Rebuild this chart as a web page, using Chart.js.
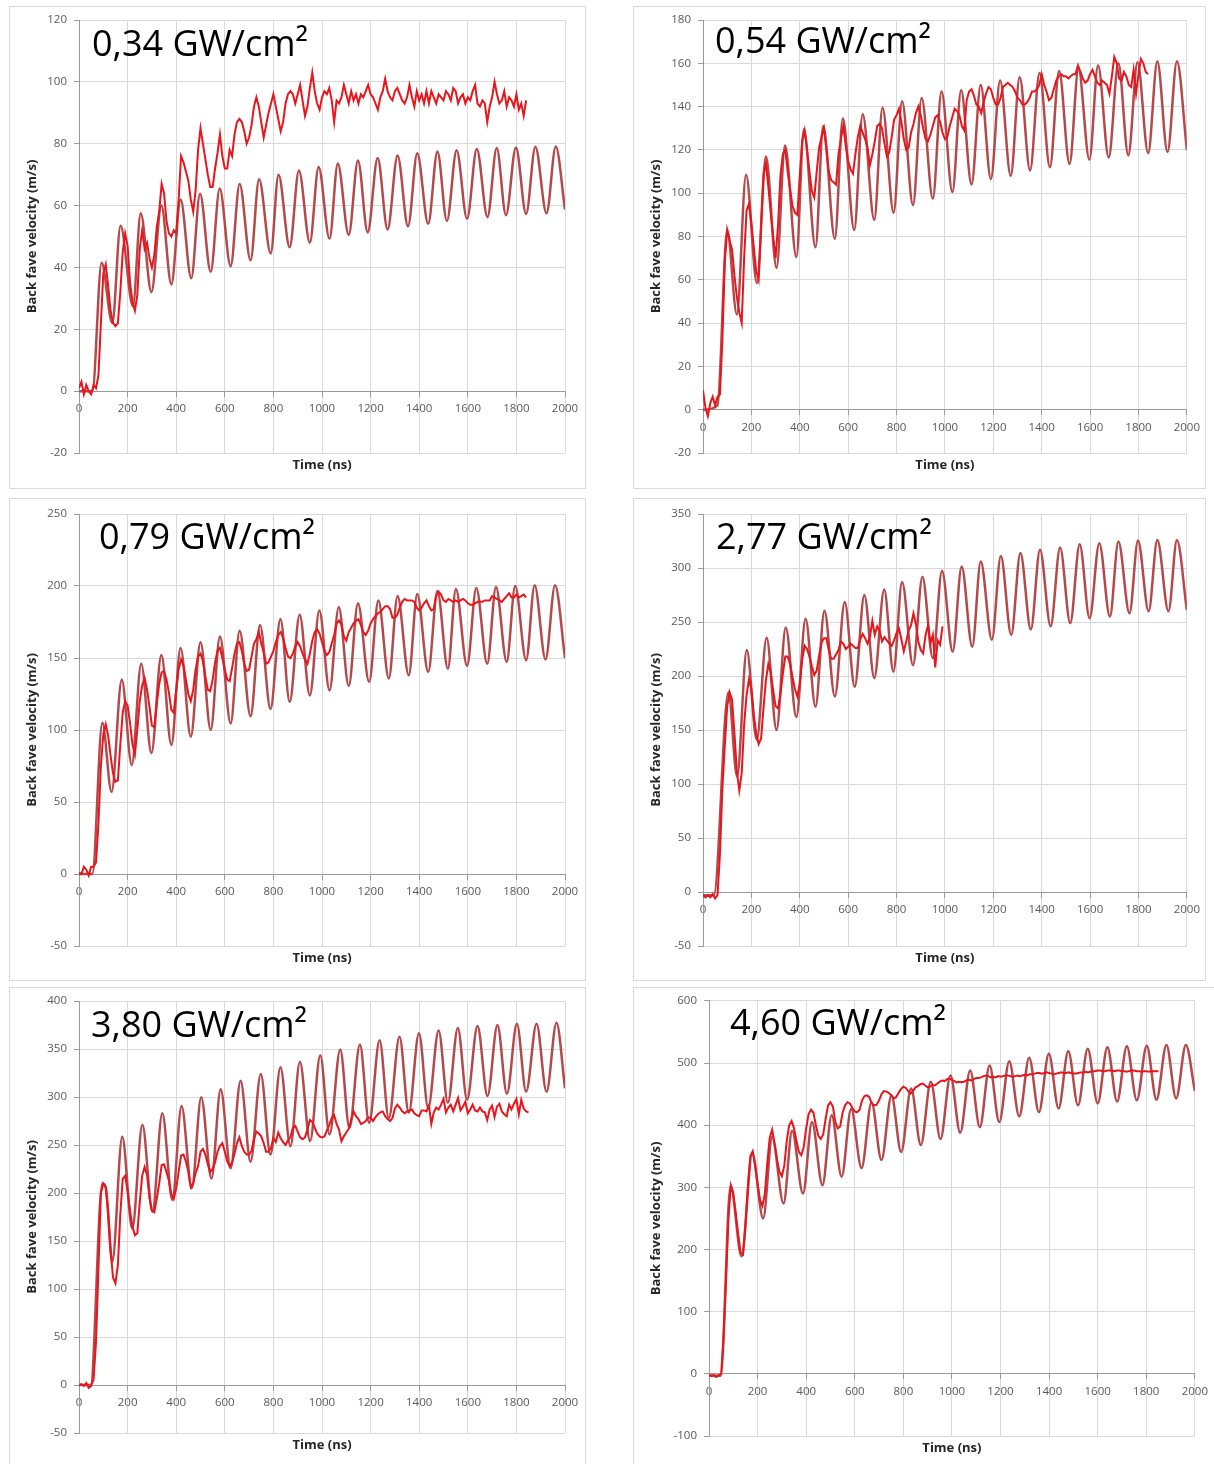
<!DOCTYPE html>
<html>
<head>
<meta charset="utf-8">
<script src="https://cdn.jsdelivr.net/npm/chart.js@4.4.1/dist/chart.umd.min.js"></script>
<style>
    body { margin: 0; background: #fff; width: 1214px; height: 1464px; position: relative; overflow: hidden; }
    canvas { position: absolute; }
    .frame { position: absolute; border: 1px solid #d9d9d9; box-sizing: border-box; pointer-events: none; }
</style>
</head>
<body>
<canvas id="c1" width="577" height="483" style="left:9px;top:6px"></canvas>
<canvas id="c2" width="573" height="483" style="left:633px;top:6px"></canvas>
<canvas id="c3" width="577" height="483" style="left:9px;top:498px"></canvas>
<canvas id="c4" width="573" height="483" style="left:633px;top:498px"></canvas>
<canvas id="c5" width="577" height="477" style="left:9px;top:987px"></canvas>
<canvas id="c6" width="581" height="477" style="left:633px;top:987px"></canvas>
<div class="frame" style="left:9px;top:6px;width:577px;height:483px"></div>
<div class="frame" style="left:633px;top:6px;width:573px;height:483px"></div>
<div class="frame" style="left:9px;top:498px;width:577px;height:483px"></div>
<div class="frame" style="left:633px;top:498px;width:573px;height:483px"></div>
<div class="frame" style="left:9px;top:987px;width:577px;height:480px"></div>
<div class="frame" style="left:633px;top:987px;width:584px;height:480px"></div>
<script>
// measured traces are sampled every 10 ns starting at t = 0
const expStep = 10;

// ---- 0,34 GW/cm2 ----
const simT034 = [0, 55, 93, 137, 171, 222, 254, 298, 339, 380, 418, 462, 498, 542, 579, 624, 661, 706, 741, 789,
    821, 867, 905, 950, 986, 1031, 1065, 1110, 1148, 1188, 1229, 1270, 1311, 1354, 1392, 1437, 1475, 1514, 1554, 1597,
    1637, 1681, 1719, 1757, 1798, 1840, 1878, 1924, 1962, 2000];
const simV034 = [0, 0, 41.5, 22, 53.5, 27.5, 57.5, 32, 60, 34.5, 62, 36.5, 63.8, 38.6, 65.5, 40.4, 67, 42.3, 68.5, 44.5,
    70, 46.5, 71.3, 48, 72.5, 49.3, 73.6, 50.5, 74.6, 51.3, 75.4, 52.3, 76.2, 53.3, 76.9, 54.1, 77.5, 55, 77.9, 55.7,
    78.3, 56.3, 78.6, 56.9, 78.8, 57.3, 79, 57.5, 79.1, 58.7];
const expV034 = [1, 3, -1, 2, 0, -1, 2, 1, 5, 22,
    38, 41, 34, 26, 22, 21, 22, 32, 45, 51,
    47, 35, 29, 26, 31, 46, 52, 46, 48, 43,
    40, 44, 53, 58, 67, 64, 55, 51, 50, 52,
    51, 62, 76, 74, 71, 68, 62, 58, 65, 78,
    85, 80, 75, 70, 66, 66, 72, 77, 83, 76,
    72, 72, 78, 76, 83, 87, 88, 87, 84, 80,
    82, 86, 92, 95, 92, 87, 82, 86, 90, 93,
    96, 92, 88, 84, 87, 93, 96, 97, 96, 93,
    96, 99, 94, 89, 92, 98, 103, 97, 93, 91,
    95, 97, 96, 98, 94, 87, 94, 93, 95, 99,
    96, 93, 97, 94, 96, 93, 96, 95, 97, 99,
    96, 95, 93, 91, 95, 97, 101, 97, 95, 94,
    97, 98, 96, 94, 93, 95, 99, 95, 92, 97,
    94, 96, 93, 97, 93, 97, 95, 93, 96, 95,
    94, 97, 96, 94, 98, 97, 93, 95, 96, 93,
    95, 94, 97, 99, 93, 92, 94, 93, 87, 92,
    95, 100, 96, 93, 94, 97, 92, 95, 94, 92,
    96, 91, 93, 89, 94];

// ---- 0,54 GW/cm2 ----
const simT054 = [0, 60, 100, 140, 178, 223, 260, 304, 339, 386, 417, 465, 497, 545, 578, 625, 660, 708, 742, 788,
    823, 868, 904, 950, 986, 1031, 1067, 1110, 1148, 1190, 1228, 1272, 1309, 1352, 1391, 1434, 1472, 1515, 1552, 1597,
    1633, 1677, 1717, 1758, 1796, 1840, 1878, 1920, 1959, 2000];
const simV054 = [0, 2, 83, 44, 108.5, 58.5, 117, 65.5, 122, 70.5, 129.5, 75, 131, 79, 134.5, 83, 136.5, 87.7, 139.5, 91,
    142.5, 94.5, 144, 97.5, 147, 100.5, 147.5, 104, 150, 106.5, 152, 108, 153.5, 110.5, 155.5, 112, 156.5, 113.5, 157.5, 115.5,
    159, 116.5, 160, 117.5, 160.5, 118.5, 161, 119, 161, 120];
const expV054 = [9, 1, -3, 3, 6, 2, 6, 7, 32, 68,
    83, 78, 74, 62, 52, 45, 40, 70, 92, 95,
    86, 75, 64, 60, 85, 108, 114, 103, 91, 80,
    70, 85, 108, 118, 120, 110, 102, 94, 91, 90,
    108, 124, 129, 120, 110, 101, 98, 110, 121, 126,
    130, 120, 110, 106, 105, 104, 118, 125, 131, 122,
    115, 111, 109, 118, 126, 131, 128, 125, 121, 113,
    118, 124, 131, 132, 130, 123, 117, 119, 126, 134,
    136, 139, 133, 125, 120, 121, 128, 132, 137, 140,
    136, 130, 125, 124, 127, 131, 135, 136, 133, 128,
    125, 126, 131, 135, 139, 138, 136, 131, 129, 143,
    147, 148, 145, 141, 140, 137, 142, 146, 149, 148,
    144, 141, 141, 144, 149, 150, 151, 150, 149, 147,
    144, 143, 141, 141, 142, 144, 147, 147, 148, 150,
    155, 150, 147, 143, 144, 148, 152, 154, 155, 154,
    154, 153, 154, 155, 155, 159, 156, 153, 151, 152,
    155, 157, 154, 151, 150, 152, 151, 150, 146, 154,
    163, 160, 153, 152, 156, 154, 150, 149, 157, 146,
    155, 162, 160, 156, 155];

// ---- 0,79 GW/cm2 ----
const simT079 = [0, 55, 96, 134, 176, 217, 256, 298, 339, 380, 418, 460, 500, 542, 580, 624, 661, 706, 745, 788,
    829, 867, 908, 950, 989, 1031, 1069, 1110, 1148, 1194, 1232, 1275, 1311, 1357, 1392, 1437, 1475, 1518, 1551, 1597,
    1635, 1680, 1716, 1760, 1795, 1840, 1875, 1920, 1959, 2000];
const simV079 = [0, 0, 105, 57, 135, 75.7, 146, 84, 152, 89.6, 157, 95.4, 161, 100, 165, 104.6, 169, 109.5, 173, 114.5,
    177, 119.5, 180, 124, 183, 127.5, 185.5, 130.5, 188, 133.4, 190, 135.7, 193, 138, 194.5, 140.3, 196.5, 142.5, 198, 144.5,
    198.6, 146, 199.3, 147.3, 200, 148.4, 200.5, 149, 200.5, 150];
const expV079 = [1, 0, 5, 3, -1, 5, 5, 8, 35, 75,
    97, 104, 96, 82, 70, 64, 65, 90, 112, 120,
    117, 105, 90, 83, 100, 120, 131, 136, 128, 116,
    103, 102, 118, 132, 140, 141, 135, 126, 114, 112,
    128, 142, 149, 145, 135, 125, 120, 128, 142, 151,
    153, 148, 137, 128, 127, 135, 147, 155, 157, 150,
    142, 135, 134, 143, 153, 160, 161, 155, 146, 141,
    142, 151, 160, 163, 168, 160, 154, 146, 147, 151,
    155, 161, 166, 168, 164, 157, 151, 150, 153, 158,
    161, 158, 153, 149, 146, 153, 162, 168, 170, 167,
    161, 155, 152, 154, 160, 166, 174, 176, 173, 165,
    162, 168, 171, 174, 176, 177, 173, 168, 166, 169,
    174, 177, 179, 181, 182, 184, 186, 186, 184, 178,
    178, 180, 185, 189, 191, 190, 190, 190, 189, 185,
    183, 185, 188, 190, 186, 183, 184, 193, 196, 194,
    190, 189, 191, 190, 189, 190, 189, 190, 191, 190,
    188, 187, 187, 188, 189, 189, 189, 190, 190, 190,
    193, 192, 191, 190, 189, 191, 193, 195, 192, 192,
    194, 192, 193, 194, 192];

// ---- 2,77 GW/cm2 ----
const simT277 = [0, 45, 105, 141, 181, 222, 263, 304, 342, 386, 424, 465, 502, 545, 586, 627, 667, 708, 749, 787,
    823, 868, 907, 950, 988, 1032, 1069, 1113, 1148, 1194, 1231, 1274, 1312, 1355, 1393, 1437, 1476, 1518, 1557, 1598,
    1638, 1682, 1717, 1763, 1798, 1842, 1878, 1924, 1959, 2000];
const simV277 = [-3, -3, 185, 107, 224, 141, 235.5, 150, 245, 162, 253, 171.5, 260.5, 181, 268.5, 190, 275, 198, 280, 204,
    287, 210, 292, 216.5, 297.5, 222.5, 301.5, 227, 306, 233.5, 311, 238, 314, 243, 317, 246, 319, 249, 322, 253.5,
    323, 255, 324.5, 258, 325.5, 260, 326, 260, 326, 261];
const expV277 = [-3, -5, -3, -5, -2, -6, -3, 35, 95, 135,
    172, 185, 178, 147, 112, 94, 110, 155, 182, 197,
    188, 164, 147, 137, 142, 170, 196, 211, 203, 187,
    172, 170, 183, 202, 218, 218, 211, 199, 188, 181,
    193, 215, 228, 225, 218, 209, 201, 205, 219, 231,
    235, 235, 224, 216, 216, 220, 224, 232, 230, 225,
    227, 230, 228, 226, 226, 234, 239, 235, 230, 236,
    251, 238, 246, 242, 232, 236, 233, 230, 228, 233,
    240, 244, 234, 223, 232, 242, 247, 258, 248, 232,
    224, 221, 238, 247, 230, 238, 208, 233, 229, 246];

// ---- 3,80 GW/cm2 ----
const simT380 = [0, 48, 96, 110, 137, 178, 219, 261, 302, 343, 384, 422, 464, 503, 545, 583, 624, 665, 706, 748, 788,
    829, 870, 909, 951, 993, 1031, 1075, 1113, 1156, 1194, 1237, 1275, 1319, 1357, 1399, 1437, 1480, 1518, 1559, 1597,
    1640, 1681, 1722, 1761, 1802, 1840, 1883, 1924, 1965, 2000];
const simV380 = [0, 0, 210, 206, 128.5, 258.5, 163, 271, 180.5, 283, 192.7, 290.6, 205, 299.7, 215, 308, 225.7, 317, 232.6, 324, 240,
    331, 248.7, 336.7, 254, 343.6, 261, 349.6, 267.8, 354.8, 273, 359, 278, 362.8, 283.5, 366.3, 288.7, 369.4, 294, 372, 297.4,
    374, 301, 375, 303.3, 376.3, 305.4, 376.3, 305.4, 377.4, 309];
const expV380 = [0, 1, -1, 2, -3, -1, 6, 45, 120, 200,
    210, 206, 180, 140, 112, 106, 125, 178, 215, 218,
    202, 182, 165, 156, 158, 190, 218, 227, 219, 196,
    182, 180, 194, 210, 229, 230, 222, 213, 199, 194,
    205, 222, 239, 240, 233, 222, 206, 210, 221, 228,
    243, 246, 240, 230, 222, 225, 232, 243, 249, 252,
    243, 233, 228, 232, 241, 252, 258, 249, 243, 240,
    240, 244, 256, 264, 262, 259, 252, 243, 243, 247,
    257, 253, 263, 257, 253, 250, 255, 258, 268, 270,
    264, 258, 256, 258, 266, 276, 274, 268, 262, 259,
    258, 259, 265, 271, 278, 281, 272, 266, 254, 259,
    263, 267, 276, 285, 280, 277, 272, 273, 275, 279,
    278, 275, 279, 282, 284, 285, 280, 277, 275, 278,
    288, 292, 289, 285, 283, 285, 286, 287, 283, 281,
    280, 286, 286, 285, 291, 272, 284, 289, 287, 292,
    298, 284, 289, 292, 285, 292, 299, 286, 290, 295,
    283, 287, 292, 286, 285, 289, 285, 284, 276, 287,
    291, 279, 290, 293, 285, 282, 280, 292, 287, 293,
    298, 282, 297, 288, 285, 284];

// ---- 4,60 GW/cm2 ----
const simT460 = [0, 48, 89, 134, 178, 223, 260, 307, 342, 387, 424, 467, 505, 546, 585, 628, 669, 710, 751, 791,
    832, 872, 913, 953, 994, 1034, 1075, 1115, 1155, 1195, 1236, 1277, 1318, 1358, 1399, 1439, 1479, 1519, 1559, 1600,
    1640, 1680, 1720, 1761, 1802, 1842, 1883, 1923, 1963, 2000];
const simV460 = [-3, -3, 303, 189, 355, 250, 381, 274, 391, 290, 405, 303.5, 416, 317, 426, 331, 437, 344, 448, 357,
    459, 368, 470, 378, 480, 388, 488, 397, 496, 405, 503, 414, 508.5, 421, 515, 427, 519, 432, 523, 435,
    525.5, 438, 527, 440, 528, 441, 529, 443, 529, 455];
const expV460 = [-2, -3, -2, -5, -2, 0, 60, 150, 250, 303,
    290, 258, 225, 195, 192, 240, 300, 350, 358, 335,
    305, 280, 270, 290, 340, 380, 393, 370, 345, 325,
    318, 335, 375, 400, 407, 395, 375, 357, 352, 365,
    395, 418, 425, 420, 400, 383, 378, 385, 410, 432,
    437, 430, 405, 395, 398, 420, 432, 437, 435, 428,
    422, 421, 425, 440, 447, 448, 445, 435, 432, 433,
    440, 450, 455, 454, 452, 448, 443, 445, 452, 458,
    462, 460, 455, 451, 455, 461, 463, 466, 467, 464,
    461, 462, 465, 464, 467, 470, 472, 471, 474, 475,
    473, 471, 469, 470, 469, 470, 472, 473, 472, 474,
    476, 476, 477, 479, 480, 479, 477, 478, 477, 479,
    478, 479, 480, 480, 479, 478, 479, 480, 479, 480,
    481, 480, 482, 482, 483, 484, 484, 483, 484, 485,
    484, 483, 482, 483, 484, 485, 484, 484, 485, 484,
    483, 483, 484, 485, 485, 486, 485, 486, 487, 487,
    488, 488, 487, 487, 488, 488, 488, 487, 488, 488,
    487, 487, 486, 487, 488, 488, 487, 487, 486, 487,
    487, 486, 487, 487, 487, 487];

const FONT = '"Open Sans", "Liberation Sans", sans-serif';

const panels = [
    { id: 'c1', label: '0,34 GW/cm²', simT: simT034, simV: simV034, expV: expV034,
      yMin: -20, yMax: 120, yStep: 20, yw: 70, pad: { left: 0, top: 14, right: 21, bottom: 36 }, tx: 83, ty: 50 },
    { id: 'c2', label: '0,54 GW/cm²', simT: simT054, simV: simV054, expV: expV054,
      yMin: -20, yMax: 180, yStep: 20, yw: 70, pad: { left: 0, top: 14, right: 16, bottom: 36 }, tx: 82, ty: 47 },
    { id: 'c3', label: '0,79 GW/cm²', simT: simT079, simV: simV079, expV: expV079,
      yMin: -50, yMax: 250, yStep: 50, yw: 70, pad: { left: 0, top: 16, right: 21, bottom: 35 }, tx: 90, ty: 51 },
    { id: 'c4', label: '2,77 GW/cm²', simT: simT277, simV: simV277, expV: expV277,
      yMin: -50, yMax: 350, yStep: 50, yw: 70, pad: { left: 0, top: 16, right: 16, bottom: 35 }, tx: 83, ty: 51 },
    { id: 'c5', label: '3,80 GW/cm²', simT: simT380, simV: simV380, expV: expV380,
      yMin: -50, yMax: 400, yStep: 50, yw: 70, pad: { left: 0, top: 14, right: 21, bottom: 31 }, tx: 82, ty: 50 },
    { id: 'c6', label: '4,60 GW/cm²', simT: simT460, simV: simV460, expV: expV460,
      yMin: -100, yMax: 600, yStep: 100, yw: 76, pad: { left: 0, top: 11, right: 17, bottom: 28 }, tx: 97, ty: 48 }
];

// big intensity label + "Time (ns)" under the plot area
const panelText = {
    id: 'panelText',
    afterDraw(chart, args, opts) {
        const ctx = chart.ctx;
        const a = chart.chartArea;
        ctx.save();
        ctx.fillStyle = '#000';
        ctx.font = '36px ' + FONT;
        ctx.textAlign = 'left';
        ctx.textBaseline = 'alphabetic';
        ctx.fillText(opts.label, opts.tx, opts.ty);
        ctx.fillStyle = '#262626';
        ctx.font = 'bold 13px ' + FONT;
        ctx.textAlign = 'center';
        ctx.textBaseline = 'middle';
        ctx.fillText('Time (ns)', (a.left + a.right) / 2, a.bottom + 12);
        ctx.restore();
    }
};

panels.forEach(p => {
    const sim = p.simT.map((t, i) => ({ x: t, y: p.simV[i] }));
    const exp = p.expV.map((v, i) => ({ x: i * expStep, y: v }));

    new Chart(document.getElementById(p.id), {
        type: 'line',
        data: {
            datasets: [
                {
                    data: sim,
                    borderColor: '#b4494c',
                    borderWidth: 2.5,
                    pointRadius: 0,
                    cubicInterpolationMode: 'monotone',
                    fill: false,
                    order: 2
                },
                {
                    data: exp,
                    borderColor: '#e8161c',
                    borderWidth: 2,
                    pointRadius: 0,
                    tension: 0,
                    fill: false,
                    order: 1
                }
            ]
        },
        options: {
            responsive: false,
            animation: false,
            events: [],
            layout: { padding: p.pad },
            plugins: {
                legend: { display: false },
                tooltip: { enabled: false },
                panelText: { label: p.label, tx: p.tx, ty: p.ty }
            },
            scales: {
                x: {
                    type: 'linear',
                    min: 0,
                    max: 2000,
                    position: { y: 0 },
                    ticks: {
                        stepSize: 200,
                        autoSkip: false,
                        maxRotation: 0,
                        padding: 6,
                        color: '#595959',
                        font: { family: FONT, size: 11.5 },
                        callback: v => String(v)
                    },
                    grid: { color: '#d9d9d9', tickColor: '#9a9a9a', tickLength: 5 },
                    border: { color: '#9a9a9a' }
                },
                y: {
                    min: p.yMin,
                    max: p.yMax,
                    ticks: {
                        stepSize: p.yStep,
                        padding: 7,
                        color: '#595959',
                        font: { family: FONT, size: 11.5 },
                        callback: v => String(v)
                    },
                    grid: { color: '#d9d9d9', tickColor: '#9a9a9a', tickLength: 5 },
                    border: { color: '#9a9a9a' },
                    title: {
                        display: true,
                        text: 'Back fave velocity (m/s)',
                        color: '#262626',
                        font: { family: FONT, size: 13, weight: 'bold' },
                        padding: { top: 15, bottom: 0 }
                    },
                    afterFit: s => { s.width = p.yw; }
                }
            }
        },
        plugins: [panelText]
    });
});
</script>
</body>
</html>
